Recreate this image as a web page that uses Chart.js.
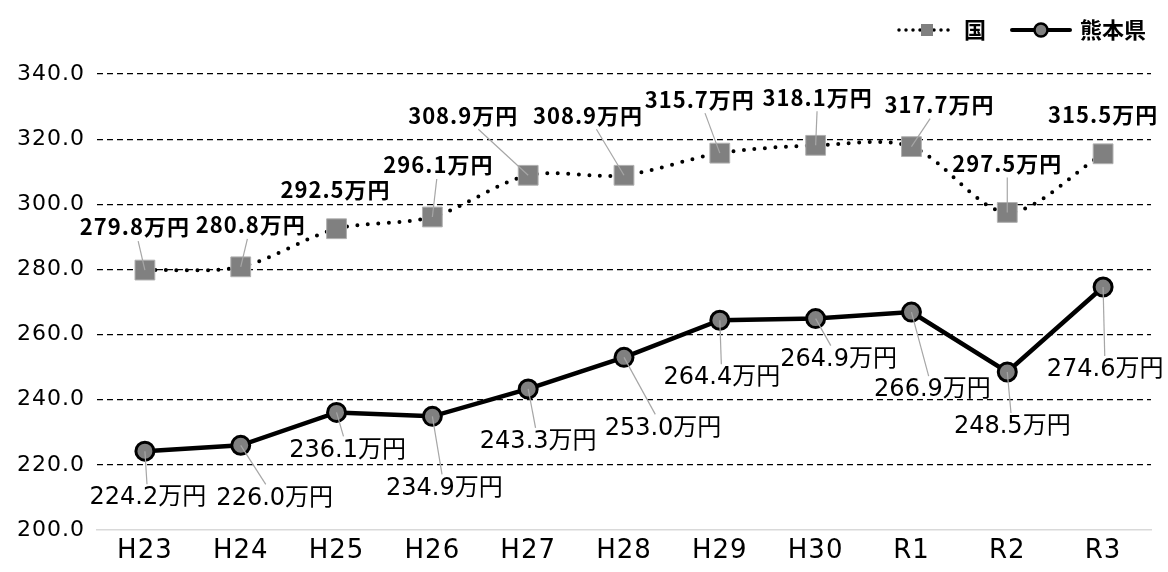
<!DOCTYPE html>
<html>
<head>
<meta charset="utf-8">
<script src="https://cdn.jsdelivr.net/npm/chart.js@4.4.0/dist/chart.umd.min.js"></script>
<style>
  html, body { margin: 0; padding: 0; background: #fff; }
  #wrap { width: 1168px; height: 572px; }
</style>
</head>
<body>
<div id="wrap"><canvas id="chart"></canvas></div>
<script>
const years = ['H23', 'H24', 'H25', 'H26', 'H27', 'H28', 'H29', 'H30', 'R1', 'R2', 'R3'];
const kuniValues = [279.8, 280.8, 292.5, 296.1, 308.9, 308.9, 315.7, 318.1, 317.7, 297.5, 315.5];
const kumamotoValues = [224.2, 226.0, 236.1, 234.9, 243.3, 253.0, 264.4, 264.9, 266.9, 248.5, 274.6];
const yMin = 200, yMax = 340, yStep = 20;
const unit = '万円';

// where each data label sits relative to its point: [dx, dy, leader line?]
const kuniLabelPos = [
  [-10, -43, true], [10, -42, true], [-1, -39, false], [6, -52, true], [-65, -60, true], [-36, -60, true],
  [-20, -54, true], [2, -48, true], [28, -42, true], [0, -49, true], [0, -39, false]
];
const kumamotoLabelPos = [
  [3, 47, true], [34, 53, true], [11, 38, true], [12, 72, true], [10, 53, true], [39, 71, true],
  [2, 58, true], [23, 41, true], [21, 78, true], [5, 55, true], [2, 83, true]
];

const JP = '"Noto Sans CJK JP", sans-serif';
const NUM = '"DejaVu Sans", "Noto Sans CJK JP", sans-serif';

const spacingPlugin = {
  id: 'spacing',
  beforeDraw(chart){
    chart.ctx.letterSpacing = '1px';
  }
};

const labelPlugin = {
  id: 'pointLabels',
  afterDatasetsDraw(chart){
    const ctx = chart.ctx;
    const sets = [
      { idx: 0, values: kuniValues, pos: kuniLabelPos, font: 'bold 22px ' + JP, spacing: '1px' },
      { idx: 1, values: kumamotoValues, pos: kumamotoLabelPos, font: '24px ' + NUM, spacing: '0px' }
    ];
    ctx.save();
    sets.forEach(s => {
      const meta = chart.getDatasetMeta(s.idx);
      ctx.font = s.font;
      ctx.letterSpacing = s.spacing;
      meta.data.forEach((pt, i) => {
        const text = s.values[i].toFixed(1) + unit;
        const cx = pt.x + s.pos[i][0];
        const cy = pt.y + s.pos[i][1];
        const hw = ctx.measureText(text).width / 2 + 4;
        const hh = 14;
        if(s.pos[i][2]){
          const dx = cx - pt.x, dy = cy - pt.y;
          const t = Math.min(dx ? hw / Math.abs(dx) : Infinity, dy ? hh / Math.abs(dy) : Infinity);
          if(t < 1){
            ctx.strokeStyle = '#a6a6a6';
            ctx.lineWidth = 1.2;
            ctx.beginPath();
            ctx.moveTo(pt.x, pt.y);
            ctx.lineTo(cx - dx * t, cy - dy * t);
            ctx.stroke();
          }
        }
        ctx.fillStyle = '#000';
        ctx.textAlign = 'center';
        ctx.textBaseline = 'middle';
        ctx.fillText(text, cx, cy);
      });
    });
    ctx.restore();
  }
};

const legendPlugin = {
  id: 'customLegend',
  afterDraw(chart){
    const ctx = chart.ctx;
    const y = 30;
    ctx.save();
    ctx.letterSpacing = '0px';
    // 国
    ctx.strokeStyle = '#000';
    ctx.lineWidth = 3.5;
    ctx.lineCap = 'round';
    ctx.setLineDash([0, 7]);
    ctx.beginPath();
    ctx.moveTo(899, y);
    ctx.lineTo(955, y);
    ctx.stroke();
    ctx.setLineDash([]);
    ctx.fillStyle = '#808080';
    ctx.fillRect(921, y - 6, 12, 12);
    ctx.fillStyle = '#000';
    ctx.font = 'bold 22px ' + JP;
    ctx.textBaseline = 'middle';
    ctx.textAlign = 'left';
    ctx.fillText('国', 964, y);
    // 熊本県
    ctx.lineWidth = 4;
    ctx.lineCap = 'round';
    ctx.beginPath();
    ctx.moveTo(1012, y);
    ctx.lineTo(1070, y);
    ctx.stroke();
    ctx.beginPath();
    ctx.arc(1041, y, 6.5, 0, Math.PI * 2);
    ctx.fillStyle = '#808080';
    ctx.fill();
    ctx.lineWidth = 2.5;
    ctx.stroke();
    ctx.fillStyle = '#000';
    ctx.fillText('熊本県', 1080, y);
    ctx.restore();
  }
};

const ctx = document.getElementById('chart').getContext('2d');
new Chart(ctx, {
  type: 'line',
  data: {
    labels: years,
    datasets: [{
      label: '国',
      data: kuniValues,
      borderColor: '#000',
      borderWidth: 4,
      borderDash: [0, 10.5],
      borderCapStyle: 'round',
      tension: 0.3,
      pointStyle: 'rect',
      pointRadius: 14,
      pointBackgroundColor: '#808080',
      pointBorderColor: '#b0b0b0',
      pointBorderWidth: 1
    }, {
      label: '熊本県',
      data: kumamotoValues,
      borderColor: '#000',
      borderWidth: 4.5,
      tension: 0,
      pointStyle: 'circle',
      pointRadius: 9,
      pointBackgroundColor: '#808080',
      pointBorderColor: '#000',
      pointBorderWidth: 3
    }]
  },
  options: {
    responsive: true,
    maintainAspectRatio: false,
    animation: false,
    layout: { padding: { top: 74, right: 17, left: 0, bottom: 0 } },
    plugins: {
      legend: { display: false },
      tooltip: { enabled: false }
    },
    scales: {
      x: {
        offset: true,
        grid: { display: false, drawTicks: false },
        border: { display: true, color: '#d9d9d9', width: 1.5 },
        ticks: { color: '#000', padding: 6, font: { family: NUM, size: 26 } },
        afterFit: s => { s.height = 42; }
      },
      y: {
        min: yMin,
        max: yMax,
        ticks: {
          stepSize: yStep,
          color: '#000',
          padding: 12,
          font: { family: NUM, size: 22 },
          callback: v => v.toFixed(1)
        },
        grid: {
          drawTicks: false,
          color: c => c.index === 0 ? 'rgba(0,0,0,0)' : '#000',
          lineWidth: 1.2
        },
        border: { display: false, dash: [6, 4] },
        afterFit: s => { s.width = 97; }
      }
    }
  },
  plugins: [spacingPlugin, labelPlugin, legendPlugin]
});
</script>
</body>
</html>
